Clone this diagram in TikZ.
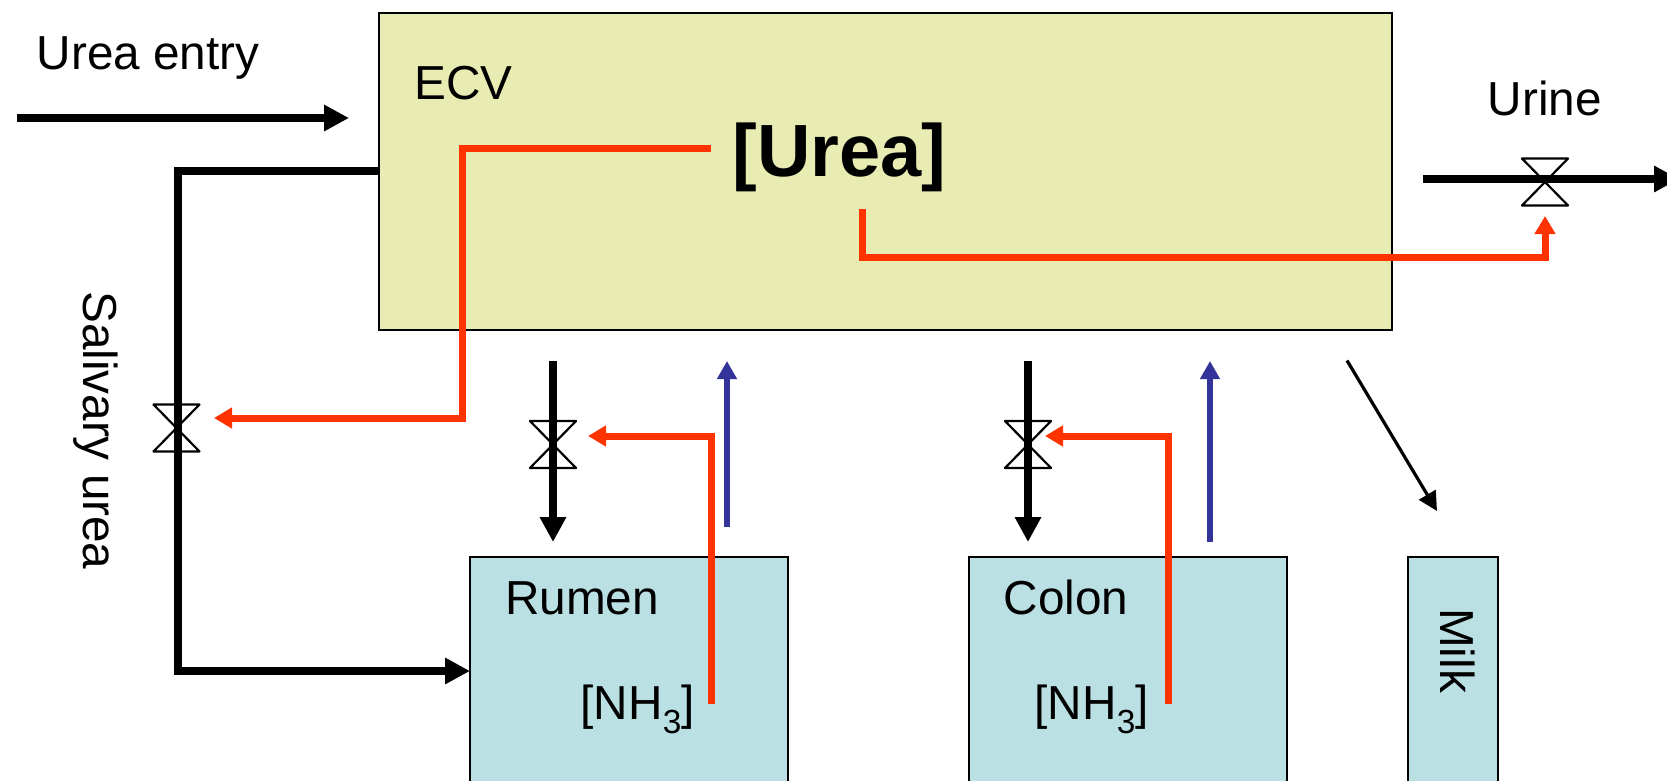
\documentclass[tikz,border=0pt]{standalone}
\usepackage{fontspec}
\setmainfont{Liberation Sans}
\usetikzlibrary{arrows.meta}
\definecolor{ecvfill}{HTML}{E8ECB2}
\definecolor{gutfill}{HTML}{BAE0E3}
\definecolor{redflow}{HTML}{FF3300}
\definecolor{blueflow}{HTML}{333399}
\tikzset{
  x=1pt,y=-1pt,
  box/.style={draw=black,line width=2pt,rectangle,inner sep=0pt},
  label/.style={inner sep=0pt,anchor=base west,font=\fontsize{47.7}{50}\selectfont},
  blackflow/.style={draw=black,line width=8pt,-{Triangle[length=25pt,width=25pt]}},
  red flow/.style={draw=redflow,line width=7pt,miter limit=10,-{Triangle[length=18pt,width=20pt]}},
  blue flow/.style={draw=blueflow,line width=6.5pt,-{Triangle[length=18pt,width=19pt]}},
  thin flow/.style={draw=black,line width=3.2pt,-{Triangle[length=19pt,width=19pt]}},
  valve/.pic={\draw[line width=2.2pt,line join=round] (-23,-23.5) -- (23,-23.5) -- (-23,23.5) -- (23,23.5) -- cycle;}
}
\begin{document}
\begin{tikzpicture}
\path[use as bounding box,clip] (0,0) rectangle (1667,781);
\fill[white] (0,0) rectangle (1667,781);

% boxes
\node[box,fill=ecvfill,minimum width=1013pt,minimum height=317pt] (ecv) at (885,171.5) {};
\node[box,fill=gutfill,minimum width=318pt,minimum height=260pt] (rumen) at (629,687) {};
\node[box,fill=gutfill,minimum width=318pt,minimum height=260pt] (colon) at (1128,687) {};
\node[box,fill=gutfill,minimum width=90pt,minimum height=260pt] (milk) at (1453,687) {};

% labels
\node[label] (tentry) at (36.5,70) {Urea entry};
\node[label] (tecv) at (414.5,100) {ECV};
\node[label,font=\fontsize{74}{76}\selectfont\bfseries] (turea) at (732.5,176) {[Urea]};
\node[label] (turine) at (1487.5,116) {Urine};
\node[label,rotate=-90] (tsal) at (83,291) {Salivary urea};
\node[label] (trumen) at (505,614) {Rumen};
\node[label] (tcolon) at (1003.5,614) {Colon};
\node[label] (tnhr) at (580.5,719) {[NH\textsubscript{3}]};
\node[label] (tnhc) at (1034.5,719) {[NH\textsubscript{3}]};
\node[label,rotate=-90] (tmilk) at (1440,608) {Milk};

% valves
\pic (vsal) at (176.5,428) {valve};
\pic (vrum) at (553,444.5) {valve};
\pic (vcol) at (1028,444.5) {valve};
\pic (vuri) at (1545,182) {valve};

% free connector ends
\coordinate (entryA) at (17,118);
\coordinate (entryB) at (349,118);
\coordinate (salA) at (379,171);
\coordinate (salB) at (177.5,171);
\coordinate (salC) at (177.5,671);
\coordinate (salD) at (470,671);
\coordinate (uriA) at (1423,179);
\coordinate (uriB) at (1679,179);
\coordinate (rumA) at (553,361);
\coordinate (rumB) at (553,542);
\coordinate (colA) at (1028,361);
\coordinate (colB) at (1028,542);
\coordinate (blrA) at (727,527);
\coordinate (blrB) at (727,361);
\coordinate (blcA) at (1210,542);
\coordinate (blcB) at (1210,361);
\coordinate (milkA) at (1347,360.5);
\coordinate (milkB) at (1437,511);
\coordinate (r1A) at (711,148);
\coordinate (r1B) at (462.5,148);
\coordinate (r1C) at (462.5,418);
\coordinate (r1D) at (214,418);
\coordinate (r2A) at (862,209);
\coordinate (r2B) at (862,257.5);
\coordinate (r2C) at (1545,257.5);
\coordinate (r2D) at (1545,216);
\coordinate (r3A) at (711,704);
\coordinate (r3B) at (711,436);
\coordinate (r3C) at (588,436);
\coordinate (r4A) at (1168,704);
\coordinate (r4B) at (1168,436);
\coordinate (r4C) at (1045,436);

% black flows
\draw[blackflow] (entryA) -- (entryB);
\draw[blackflow,miter limit=10] (salA) -- (salB) -- (salC) -- (salD);
\draw[blackflow] (uriA) -- (uriB);
\draw[blackflow] (rumA) -- (rumB);
\draw[blackflow] (colA) -- (colB);
\draw[thin flow] (milkA) -- (milkB);

% blue flows
\draw[blue flow] (blrA) -- (blrB);
\draw[blue flow] (blcA) -- (blcB);

% red flows
\draw[red flow] (r1A) -- (r1B) -- (r1C) -- (r1D);
\draw[red flow] (r2A) -- (r2B) -- (r2C) -- (r2D);
\draw[red flow] (r3A) -- (r3B) -- (r3C);
\draw[red flow] (r4A) -- (r4B) -- (r4C);
\end{tikzpicture}
\end{document}
